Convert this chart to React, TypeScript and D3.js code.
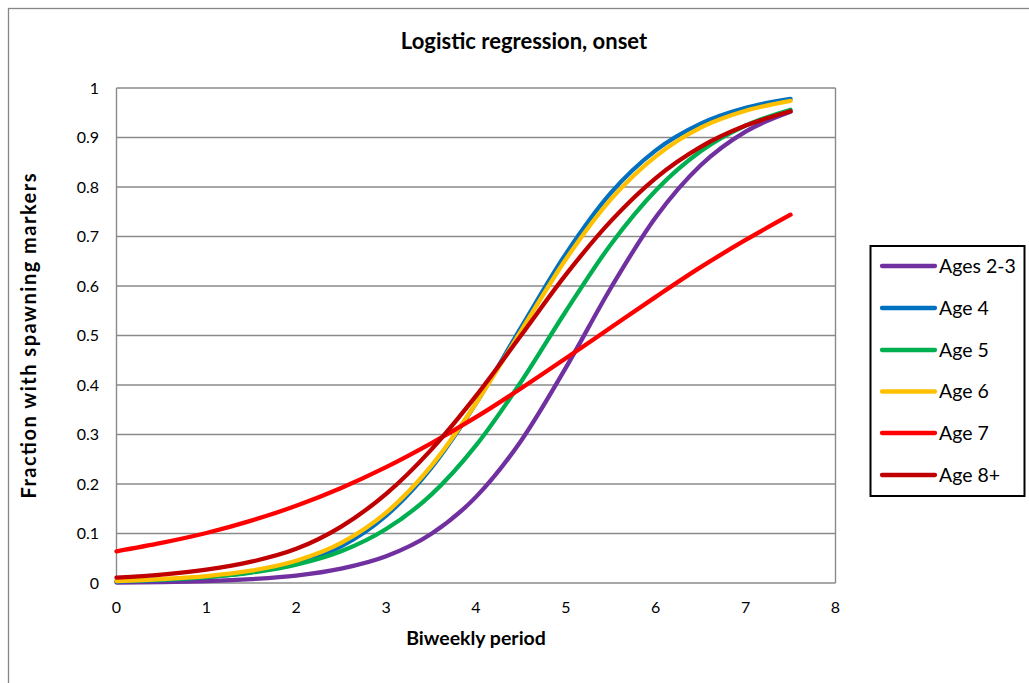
import React from "react";
import * as d3 from "d3";

const xValues = [0, 0.5, 1, 1.5, 2, 2.5, 3, 3.5, 4, 4.5, 5, 5.5, 6, 6.5, 7, 7.5];

const ages23 = [0.001, 0.002, 0.004, 0.008, 0.015, 0.029, 0.054, 0.099, 0.174, 0.287, 0.435, 0.596, 0.739, 0.844, 0.912, 0.952];
const age4 = [0.003, 0.006, 0.012, 0.022, 0.040, 0.074, 0.136, 0.232, 0.363, 0.516, 0.665, 0.788, 0.874, 0.928, 0.960, 0.978];
const age5 = [0.004, 0.007, 0.012, 0.021, 0.037, 0.064, 0.109, 0.178, 0.278, 0.406, 0.549, 0.684, 0.793, 0.872, 0.924, 0.956];
const age6 = [0.004, 0.008, 0.014, 0.025, 0.045, 0.081, 0.142, 0.236, 0.363, 0.509, 0.654, 0.775, 0.862, 0.920, 0.954, 0.974];
const age7 = [0.064, 0.081, 0.101, 0.126, 0.156, 0.192, 0.234, 0.282, 0.335, 0.393, 0.454, 0.516, 0.578, 0.638, 0.693, 0.744];
const age8 = [0.011, 0.017, 0.027, 0.043, 0.069, 0.114, 0.180, 0.269, 0.378, 0.500, 0.623, 0.731, 0.818, 0.881, 0.924, 0.953];

const seriesNames = ["Ages 2-3", "Age 4", "Age 5", "Age 6", "Age 7", "Age 8+"];
const seriesColors = ["#7030A0", "#0070C0", "#00B050", "#FFC000", "#FF0000", "#C00000"];
const seriesValues = [ages23, age4, age5, age6, age7, age8];

const xTicks = [0, 1, 2, 3, 4, 5, 6, 7, 8];
const yTicks = [0, 0.1, 0.2, 0.3, 0.4, 0.5, 0.6, 0.7, 0.8, 0.9, 1];

const FONT = "Lato, 'Open Sans', sans-serif";

export default function App() {
  const left = 116.5, right = 835.5, top = 88, bottom = 583;
  const x = d3.scaleLinear().domain([0, 8]).range([left, right]);
  const y = d3.scaleLinear().domain([0, 1]).range([bottom, top]);
  const line = d3
    .line<[number, number]>()
    .x((d) => x(d[0]))
    .y((d) => y(d[1]))
    .curve(d3.curveMonotoneX);

  const legendX = 870.5, legendY = 246, legendW = 154, legendH = 250;
  const legendRowY = [266, 308, 350, 391.5, 433, 475];

  return (
    <svg
      width={1029}
      height={683}
      style={{ position: "absolute", left: 0, top: 0, background: "#fff" }}
      fontFamily={FONT}
    >
      <rect x={8.5} y={8.5} width={1040} height={700} fill="#fff" stroke="#868686" strokeWidth={1.3} />
      <text x={524} y={49} textAnchor="middle" fontWeight="bold" fontSize={22} fill="#000">
        Logistic regression, onset
      </text>
      {yTicks.map((t) => (
        <line key={"g" + t} x1={left} x2={right} y1={y(t)} y2={y(t)} stroke="#8a8a8a" strokeWidth={1.4} />
      ))}
      <line x1={left} x2={left} y1={top} y2={bottom} stroke="#8a8a8a" strokeWidth={1.4} />
      <line x1={right} x2={right} y1={top} y2={bottom} stroke="#8a8a8a" strokeWidth={1.4} />
      {yTicks.map((t) => (
        <text key={"yt" + t} x={99} y={y(t) + 5.5} textAnchor="end" fontSize={16} fill="#000">
          {d3.format("~g")(t)}
        </text>
      ))}
      {xTicks.map((t) => (
        <text key={"xt" + t} x={x(t)} y={613} textAnchor="middle" fontSize={16} fill="#000">
          {t}
        </text>
      ))}
      <text x={476} y={645} textAnchor="middle" fontWeight="bold" fontSize={19.5} fill="#000">
        Biweekly period
      </text>
      <text
        transform={`translate(36,336) rotate(-90)`}
        textAnchor="middle"
        fontWeight="bold"
        fontSize={20}
        textLength={325}
        lengthAdjust="spacing"
        fill="#000"
      >
        Fraction with spawning markers
      </text>
      {seriesValues.map((vals, i) => (
        <path
          key={seriesNames[i]}
          d={line(xValues.map((xv, j) => [xv, vals[j]] as [number, number])) || ""}
          fill="none"
          stroke={seriesColors[i]}
          strokeWidth={4.3}
          strokeLinecap="round"
          strokeLinejoin="round"
        />
      ))}
      <rect x={legendX} y={legendY} width={legendW} height={legendH} fill="#fff" stroke="#000" strokeWidth={2} />
      {seriesNames.map((n, i) => (
        <g key={"lg" + n}>
          <line
            x1={882}
            x2={935}
            y1={legendRowY[i]}
            y2={legendRowY[i]}
            stroke={seriesColors[i]}
            strokeWidth={4.3}
            strokeLinecap="round"
          />
          <text x={939} y={legendRowY[i] + 6.5} fontSize={19.5} fill="#000">
            {n}
          </text>
        </g>
      ))}
    </svg>
  );
}
